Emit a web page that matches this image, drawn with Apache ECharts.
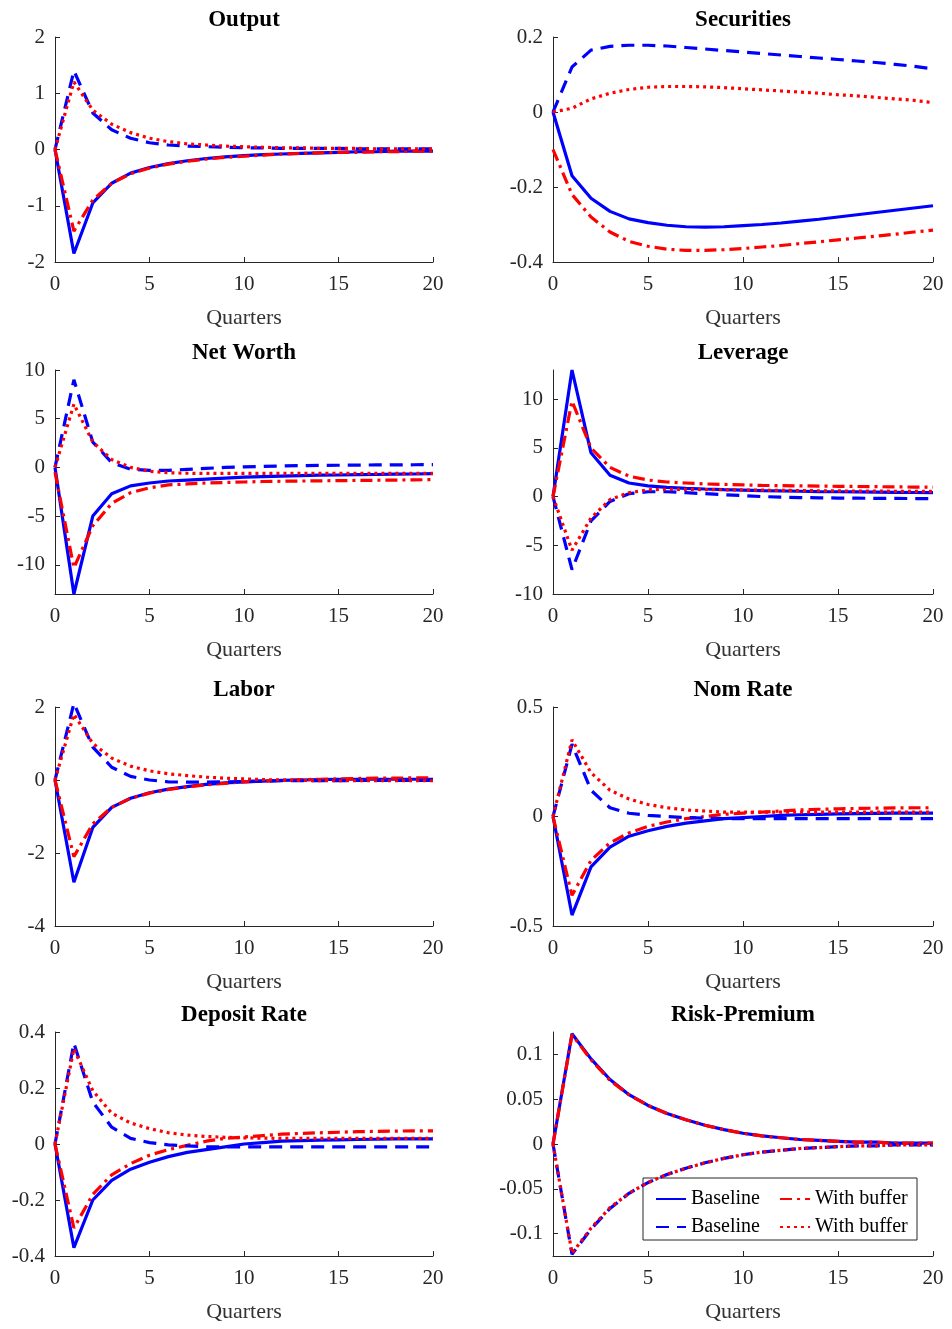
<!DOCTYPE html>
<html>
<head>
<meta charset="utf-8">
<script src="https://cdn.jsdelivr.net/npm/echarts@6/dist/echarts.min.js"></script>
<style>html,body{margin:0;padding:0;background:#fff}#chart{width:952px;height:1329px}</style>
</head>
<body>
<div id="chart"></div>
<script>
var quarters = [];
for (var q = 0; q <= 20; q++) quarters.push(q);

var titles = ['Output', 'Securities', 'Net Worth', 'Leverage', 'Labor', 'Nom Rate', 'Deposit Rate', 'Risk-Premium'];

// per panel: [blue solid, red dash-dot, blue dashed, red dotted]
var output = [
  [0,-1.85,-0.95,-0.6,-0.42,-0.32,-0.25,-0.2,-0.16,-0.13,-0.11,-0.09,-0.08,-0.07,-0.06,-0.05,-0.04,-0.04,-0.03,-0.03,-0.03],
  [0,-1.45,-0.9,-0.6,-0.43,-0.33,-0.26,-0.21,-0.17,-0.14,-0.12,-0.1,-0.08,-0.07,-0.06,-0.05,-0.05,-0.04,-0.04,-0.03,-0.03],
  [0,1.4,0.65,0.35,0.2,0.12,0.08,0.06,0.05,0.04,0.03,0.03,0.02,0.02,0.02,0.02,0.01,0.01,0.01,0.01,0.01],
  [0,1.2,0.7,0.45,0.3,0.2,0.14,0.1,0.08,0.06,0.05,0.04,0.03,0.03,0.02,0.02,0.02,0.01,0.01,0.01,0.01]
];
var securities = [
  [0,-0.17,-0.23,-0.265,-0.285,-0.295,-0.302,-0.306,-0.307,-0.306,-0.303,-0.3,-0.296,-0.291,-0.286,-0.28,-0.274,-0.268,-0.262,-0.256,-0.25],
  [-0.1,-0.22,-0.28,-0.32,-0.345,-0.358,-0.366,-0.369,-0.369,-0.367,-0.364,-0.36,-0.356,-0.351,-0.346,-0.341,-0.336,-0.331,-0.326,-0.32,-0.315],
  [0,0.12,0.165,0.175,0.178,0.178,0.176,0.172,0.168,0.164,0.16,0.156,0.152,0.148,0.144,0.14,0.136,0.132,0.127,0.122,0.115],
  [0,0.01,0.035,0.05,0.06,0.066,0.068,0.068,0.067,0.065,0.062,0.059,0.056,0.053,0.05,0.046,0.043,0.039,0.035,0.031,0.025]
];
var netWorth = [
  [0,-13,-5,-2.7,-1.9,-1.6,-1.4,-1.3,-1.2,-1.1,-1.0,-0.95,-0.9,-0.85,-0.8,-0.78,-0.75,-0.73,-0.7,-0.68,-0.65],
  [-0.5,-10.3,-6,-3.7,-2.6,-2.1,-1.8,-1.7,-1.6,-1.55,-1.5,-1.45,-1.42,-1.4,-1.38,-1.36,-1.34,-1.32,-1.3,-1.28,-1.26],
  [0,9,2.6,0.5,-0.2,-0.3,-0.3,-0.2,-0.1,0,0.05,0.1,0.15,0.18,0.2,0.22,0.24,0.25,0.26,0.27,0.28],
  [0,6.5,2.6,0.8,0,-0.4,-0.55,-0.6,-0.62,-0.62,-0.62,-0.62,-0.62,-0.62,-0.62,-0.62,-0.62,-0.62,-0.62,-0.62,-0.62]
];
var leverage = [
  [0,13,4.5,2.2,1.4,1.1,0.95,0.85,0.78,0.72,0.67,0.62,0.58,0.55,0.52,0.5,0.48,0.46,0.44,0.42,0.4],
  [0,9.8,5,3,2.1,1.7,1.5,1.4,1.3,1.25,1.2,1.15,1.12,1.1,1.08,1.06,1.04,1.02,1.0,0.98,0.96],
  [0,-7.5,-2.5,-0.5,0.3,0.5,0.5,0.4,0.3,0.2,0.1,0,-0.05,-0.1,-0.12,-0.15,-0.16,-0.18,-0.18,-0.2,-0.2],
  [0,-5.5,-2.2,-0.3,0.4,0.7,0.75,0.75,0.72,0.7,0.68,0.66,0.64,0.62,0.6,0.58,0.57,0.56,0.55,0.54,0.53]
];
var labor = [
  [0,-2.8,-1.3,-0.75,-0.5,-0.35,-0.25,-0.18,-0.12,-0.08,-0.05,-0.03,-0.01,0,0.01,0.02,0.02,0.02,0.02,0.02,0.02],
  [0,-2.1,-1.2,-0.75,-0.5,-0.36,-0.26,-0.19,-0.13,-0.09,-0.05,-0.03,-0.01,0.01,0.02,0.03,0.04,0.05,0.05,0.06,0.06],
  [0,2.1,0.9,0.35,0.1,0,-0.05,-0.06,-0.06,-0.05,-0.04,-0.03,-0.02,-0.02,-0.02,-0.02,-0.01,-0.01,-0.01,-0.01,-0.01],
  [0,1.8,1,0.6,0.38,0.25,0.17,0.12,0.08,0.05,0.03,0.01,0,-0.01,-0.02,-0.02,-0.02,-0.02,-0.02,-0.02,-0.02]
];
var nomRate = [
  [0,-0.45,-0.23,-0.14,-0.09,-0.065,-0.045,-0.03,-0.02,-0.01,-0.005,0,0.005,0.008,0.01,0.012,0.013,0.014,0.015,0.015,0.015],
  [0,-0.36,-0.2,-0.12,-0.075,-0.045,-0.025,-0.01,0,0.01,0.015,0.02,0.025,0.03,0.033,0.035,0.037,0.038,0.039,0.04,0.04],
  [0,0.33,0.12,0.04,0.015,0.005,0,-0.005,-0.008,-0.01,-0.01,-0.01,-0.01,-0.01,-0.01,-0.01,-0.01,-0.01,-0.01,-0.01,-0.01],
  [0,0.35,0.2,0.12,0.08,0.055,0.04,0.03,0.025,0.02,0.02,0.02,0.02,0.02,0.02,0.02,0.02,0.02,0.02,0.02,0.02]
];
var depositRate = [
  [0,-0.37,-0.2,-0.13,-0.09,-0.065,-0.045,-0.03,-0.02,-0.01,0,0.005,0.01,0.012,0.014,0.015,0.016,0.017,0.018,0.018,0.018],
  [0,-0.3,-0.18,-0.11,-0.07,-0.04,-0.02,-0.005,0.01,0.02,0.025,0.03,0.035,0.038,0.04,0.042,0.044,0.045,0.046,0.047,0.047],
  [0,0.36,0.15,0.06,0.02,0.005,-0.003,-0.007,-0.01,-0.01,-0.01,-0.01,-0.01,-0.01,-0.01,-0.01,-0.01,-0.01,-0.01,-0.01,-0.01],
  [0,0.34,0.19,0.11,0.075,0.055,0.04,0.032,0.027,0.024,0.022,0.021,0.02,0.02,0.02,0.02,0.02,0.02,0.02,0.02,0.02]
];
var riskPremium = [
  [0,0.123,0.095,0.072,0.055,0.043,0.034,0.027,0.021,0.016,0.012,0.009,0.007,0.005,0.004,0.003,0.002,0.002,0.001,0.001,0.001],
  [0,0.122,0.094,0.071,0.055,0.043,0.034,0.027,0.021,0.016,0.012,0.009,0.007,0.005,0.004,0.003,0.002,0.002,0.001,0.001,0.001],
  [0,-0.123,-0.095,-0.072,-0.055,-0.043,-0.034,-0.027,-0.021,-0.016,-0.012,-0.009,-0.007,-0.005,-0.004,-0.003,-0.002,-0.002,-0.001,-0.001,-0.001],
  [0,-0.122,-0.094,-0.071,-0.055,-0.043,-0.034,-0.027,-0.021,-0.016,-0.012,-0.009,-0.007,-0.005,-0.004,-0.003,-0.002,-0.002,-0.001,-0.001,-0.001]
];
var panels = [output, securities, netWorth, leverage, labor, nomRate, depositRate, riskPremium];

// y ranges and tick labels
var yMin = [-2, -0.4, -13, -10, -4, -0.5, -0.4, -0.125];
var yMax = [2, 0.2, 10, 13, 2, 0.5, 0.4, 0.125];
var yTicks = [
  [-2,-1,0,1,2],
  [-0.4,-0.2,0,0.2],
  [-10,-5,0,5,10],
  [-10,-5,0,5,10],
  [-4,-2,0,2],
  [-0.5,0,0.5],
  [-0.4,-0.2,0,0.2,0.4],
  [-0.1,-0.05,0,0.05,0.1]
];
var seriesNames = ['Baseline', 'With buffer', 'Baseline ', 'With buffer '];
var seriesStyles = [
  {color: '#0000ff', type: 'solid'},
  {color: '#ff0000', type: [12, 5, 3, 5]},
  {color: '#0000ff', type: [13, 8]},
  {color: '#ff0000', type: [3, 4]}
];

var lefts = [55, 553], widths = [378, 380];
var tops = [37, 370, 707, 1032], heights = [225, 224, 219, 224];
var font = 'Liberation Serif';

var grids = [], xAxes = [], yAxes = [], series = [], titleList = [];
panels.forEach(function (p, i) {
  var col = i % 2, row = Math.floor(i / 2);
  grids.push({left: lefts[col], top: tops[row], width: widths[col], height: heights[row]});
  titleList.push({
    text: titles[i], left: lefts[col] + widths[col] / 2 - 5, top: tops[row] - 33, textAlign: 'center',
    textStyle: {fontFamily: font, fontSize: 23, fontWeight: 'bold', color: '#000'}
  });
  xAxes.push({
    type: 'value', gridIndex: i, min: 0, max: 20, interval: 5,
    name: 'Quarters', nameLocation: 'middle', nameGap: 45,
    nameTextStyle: {fontFamily: font, fontSize: 22, color: '#333'},
    axisLine: {onZero: false, lineStyle: {color: '#262626', width: 1}},
    axisTick: {inside: true, length: 5, lineStyle: {color: '#262626'}},
    axisLabel: {fontFamily: font, fontSize: 21, color: '#262626', margin: 12},
    splitLine: {show: false}
  });
  yAxes.push({
    type: 'value', gridIndex: i, min: yMin[i], max: yMax[i],
    axisLine: {show: true, onZero: false, lineStyle: {color: '#262626', width: 1}},
    axisTick: {show: true, inside: true, length: 5, customValues: yTicks[i], lineStyle: {color: '#262626'}},
    axisLabel: {fontFamily: font, fontSize: 21, color: '#262626', margin: 10, customValues: yTicks[i]},
    splitLine: {show: false}
  });
  p.forEach(function (vals, k) {
    series.push({
      name: seriesNames[k], type: 'line', xAxisIndex: i, yAxisIndex: i,
      data: quarters.map(function (x, j) { return [x, vals[j]]; }),
      showSymbol: false, symbol: 'none', animation: false, silent: true,
      lineStyle: {color: seriesStyles[k].color, type: seriesStyles[k].type, width: 3.2},
      itemStyle: {color: seriesStyles[k].color}
    });
  });
});

var legendText = {fontFamily: font, fontSize: 20, color: '#000'};
var legendItem = {opacity: 0, borderWidth: 0};
var option = {
  backgroundColor: '#fff',
  title: titleList,
  grid: grids, xAxis: xAxes, yAxis: yAxes, series: series,
  legend: [
    {data: ['Baseline', 'Baseline '], orient: 'vertical', left: 650, top: 1184, itemGap: 8,
     itemWidth: 30, itemHeight: 12, selectedMode: false, textStyle: legendText, itemStyle: legendItem},
    {data: ['With buffer', 'With buffer '], orient: 'vertical', left: 774, top: 1184, itemGap: 8,
     itemWidth: 30, itemHeight: 12, selectedMode: false, textStyle: legendText, itemStyle: legendItem}
  ],
  graphic: [{
    type: 'rect', shape: {x: 643, y: 1178, width: 274, height: 62},
    style: {fill: '#fff', stroke: '#262626', lineWidth: 1}, z: 0
  }]
};
var ec = echarts.init(document.getElementById('chart'));
ec.setOption(option);
</script>
</body>
</html>
